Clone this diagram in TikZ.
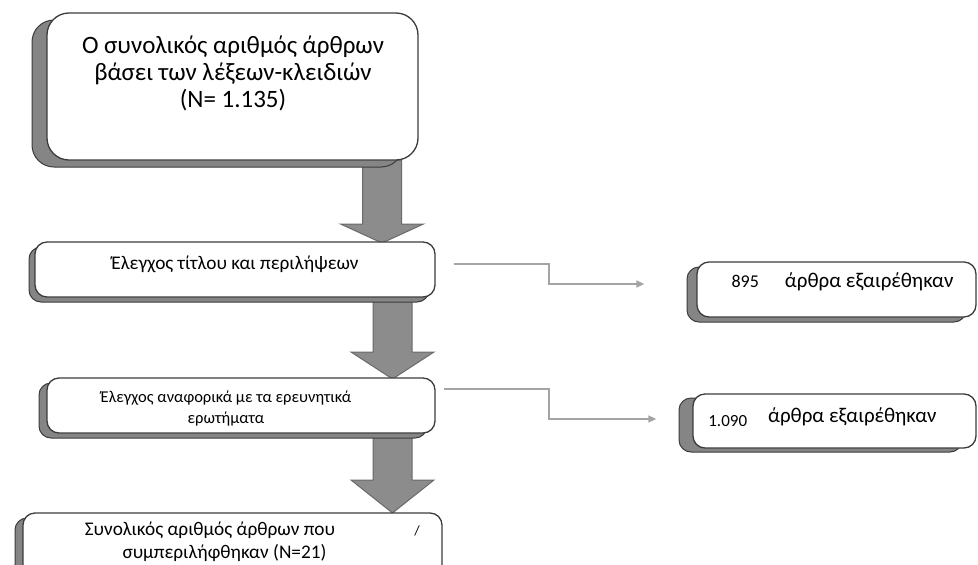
\documentclass[tikz,border=0pt]{standalone}
\usepackage{fontspec}
\setmainfont{Carlito}
\usetikzlibrary{shadows,arrows.meta}

\definecolor{boxLine}{HTML}{3C3C3C}
\definecolor{boxShadow}{HTML}{858585}
\definecolor{flowFill}{HTML}{8C8C8C}
\definecolor{flowLine}{HTML}{6A6A6A}
\definecolor{linkGray}{HTML}{A4A4A4}

\tikzset{
  stagebox/.style={draw=boxLine, line width=1.3pt, fill=white, rounded corners=12pt, inner sep=0pt},
  shadowed/.style 2 args={copy shadow={shadow xshift=#1, shadow yshift=#2, fill=boxShadow, draw=boxLine, line width=1pt}},
  flowarrow/.style={fill=flowFill, draw=flowLine, line width=1pt, line join=miter},
  linkarrow/.style={draw=linkGray, line width=1.4pt, -{Triangle[length=8pt,width=7pt]}},
  steptext/.style={align=center, inner sep=0pt}
}

% big downward arrow: centre x, top, head base, tip
\newcommand{\flowdown}[4]{%
  \draw[flowarrow] (#1-19.5,#2) -- (#1+19.5,#2) -- (#1+19.5,#3) -- (#1+41.5,#3)
    -- (#1,#4) -- (#1-41.5,#3) -- (#1-19.5,#3) -- cycle;}

\begin{document}
\begin{tikzpicture}[x=1pt,y=-1pt]
\useasboundingbox (0,0) rectangle (978,565);

\flowdown{382}{160}{224}{243}
\flowdown{392.5}{297}{352}{379}
\flowdown{392.5}{433}{480}{513}

\node[stagebox, rounded corners=22pt, minimum width=371pt, minimum height=147pt, shadowed={-15pt}{-7pt}] (keywordbox) at (232.5,86.5) {};
\node[steptext, font=\fontsize{25}{27}\selectfont] (keywordtext) at (233,73)
  {Ο συνολικός αριθμός άρθρων\\βάσει των λέξεων-κλειδιών\\(N= 1.135)};

\node[stagebox, minimum width=400pt, minimum height=55pt, shadowed={-6pt}{-5pt}] (titlebox) at (235,269.5) {};
\node[steptext, font=\fontsize{19.3}{22}\selectfont] (titletext) at (235,264)
  {Έλεγχος τίτλου και περιλήψεων};

\node[stagebox, minimum width=388pt, minimum height=55pt, shadowed={-8pt}{-5pt}] (questionbox) at (241,405.5) {};
\node[steptext, font=\fontsize{16.5}{21}\selectfont] (questiontext) at (226,409)
  {Έλεγχος αναφορικά με τα ερευνητικά\\ερωτήματα};

\node[stagebox, minimum width=419pt, minimum height=70pt, shadowed={-8pt}{-5pt}] (finalbox) at (232.5,548) {};
\node[steptext, font=\fontsize{19.3}{23}\selectfont] (finaltext) at (210,541.5)
  {Συνολικός αριθμός άρθρων που\\\hspace*{29pt}συμπεριλήφθηκαν (N=21)};
\node[inner sep=0pt, font=\fontsize{14}{14}\selectfont] (finalmark) at (417,531) {/};

\node[stagebox, minimum width=279pt, minimum height=55pt, shadowed={-10pt}{-5pt}] (exclone) at (836.5,289.5) {};
\node[inner sep=0pt] (excltextone) at (842.5,282)
  {{\fontsize{18}{20}\selectfont 895}\hspace{26pt}{\fontsize{21}{24}\selectfont άρθρα εξαιρέθηκαν}};

\node[stagebox, minimum width=283pt, minimum height=54pt, shadowed={-14pt}{-4pt}] (excltwo) at (834.5,421) {};
\node[inner sep=0pt] (excltexttwo) at (822.5,417)
  {{\fontsize{17}{20}\selectfont 1.090}\hspace{21pt}{\fontsize{21}{24}\selectfont\raisebox{4pt}{άρθρα εξαιρέθηκαν}}};

\draw[linkarrow] ([shift={(18pt,5.5pt)}]titlebox.east) -- (549,264) |- ([shift={(-52pt,5.5pt)}]exclone.west);
\draw[linkarrow] ([shift={(8pt,16.5pt)}]questionbox.east) -- (549,389) |- ([shift={(-36pt,2pt)}]excltwo.west);

\end{tikzpicture}
\end{document}
